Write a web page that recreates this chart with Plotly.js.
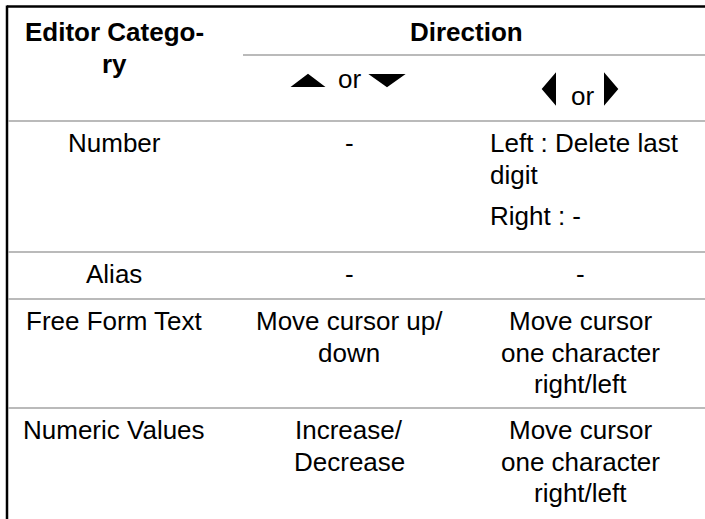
<!DOCTYPE html>
<html>
<head>
<meta charset="utf-8">
<script src="https://cdn.plot.ly/plotly-3.0.1.min.js"></script>
<style>html,body{margin:0;padding:0;background:#fff;}#chart{width:705px;height:519px;}</style>
</head>
<body>
<div id="chart"></div>
<script>
// ---- table content ----
const headerCategory = ["Editor Catego-", "ry"];
const headerDirection = "Direction";
const headerUpDown = "or";
const headerLeftRight = "or";
const categories = ["Number", "Alias", "Free Form Text", "Numeric Values"];
const upDownActions = [["-"], ["-"], ["Move cursor up/", "down"], ["Increase/", "Decrease"]];
const leftRightActions = [["Left : Delete last", "digit"], ["-"], ["Move cursor", "one character", "right/left"], ["Move cursor", "one character", "right/left"]];
const leftRightExtra = [["Right : -"], [], [], []];
const leftRightAlign = ["left", "center", "center", "center"];

// ---- layout constants (pixels of the 705x519 canvas) ----
const W = 705, H = 519;
const colEdges = [7, 243, 477, 705];
const headerTop = 6.5, headerSplit = 55, headerBottom = 121;
const rowBottoms = [252, 299, 408, null];
const colOffset = -11, leftPad = 11, firstLinePad = 22, lineStep = 31.5, paraGap = 10;
const FONT = "Liberation Sans, Arial, Helvetica, sans-serif";
const FS = 26;
const gridColor = "#a3a3a3";

const annotations = [];
const shapes = [];
function addText(lines, x, firstY, opts) {
  opts = opts || {};
  lines.forEach((ln, k) => {
    annotations.push({
      xref: "x", yref: "y", x: x, y: firstY + k * lineStep,
      text: ln, showarrow: false,
      xanchor: opts.xanchor || "center", yanchor: "middle",
      font: {family: FONT, size: FS, color: "#000", weight: opts.bold ? "bold" : "normal"}
    });
  });
}
function hline(y, x0, x1, color, width) {
  shapes.push({type: "line", xref: "x", yref: "y", x0: x0, x1: x1, y0: y, y1: y, line: {color: color, width: width}});
}
function tri(cx, cy, w, h, dir) {
  let p;
  if (dir === "up") p = [[cx - w/2, cy + h/2], [cx + w/2, cy + h/2], [cx, cy - h/2]];
  else if (dir === "down") p = [[cx - w/2, cy - h/2], [cx + w/2, cy - h/2], [cx, cy + h/2]];
  else if (dir === "left") p = [[cx + w/2, cy - h/2], [cx + w/2, cy + h/2], [cx - w/2, cy]];
  else p = [[cx - w/2, cy - h/2], [cx - w/2, cy + h/2], [cx + w/2, cy]];
  const d = "M" + p.map(q => q[0] + "," + q[1]).join("L") + "Z";
  shapes.push({type: "path", xref: "x", yref: "y", path: d, fillcolor: "#000", line: {color: "#000", width: 2}});
}
const colCenter = i => (colEdges[i] + colEdges[i + 1]) / 2 + colOffset;

// borders
hline(headerTop, colEdges[0], W, "#000", 2.5);
shapes.push({type: "line", xref: "x", yref: "y", x0: colEdges[0], x1: colEdges[0], y0: headerTop - 1, y1: H, line: {color: "#000", width: 2.5}});
hline(headerSplit, colEdges[1], W, gridColor, 1.5);
hline(headerBottom, colEdges[0] + 1, W, gridColor, 1.5);
rowBottoms.forEach(y => { if (y !== null) hline(y, colEdges[0] + 1, W, gridColor, 1.5); });

// header
const headFirst = headerTop + 25.5;
addText(headerCategory, colCenter(0), headFirst, {bold: true});
addText([headerDirection], (colEdges[1] + colEdges[3]) / 2 - 8, headFirst, {bold: true});
const c2 = colCenter(1), c3 = colCenter(2);
const arrowY1 = 80.5, arrowY2 = 89;
addText([headerUpDown], c2, arrowY1 - 1.5);
tri(c2 - 41, arrowY1, 29, 11, "up");
tri(c2 + 38, arrowY1, 31, 11, "down");
addText([headerLeftRight], c3 + 2, arrowY2 + 6.5);
tri(c3 - 31, arrowY2, 12, 28, "left");
tri(c3 + 31, arrowY2, 12, 28, "right");

// body rows
const rowTops = [headerBottom].concat(rowBottoms.slice(0, 3));
categories.forEach((cat, i) => {
  const y0 = rowTops[i] + firstLinePad;
  addText([cat], colCenter(0), y0);
  addText(upDownActions[i], colCenter(1), y0);
  if (leftRightAlign[i] === "left") {
    addText(leftRightActions[i], colEdges[2] + leftPad, y0, {xanchor: "left"});
    if (leftRightExtra[i].length) {
      addText(leftRightExtra[i], colEdges[2] + leftPad, y0 + leftRightActions[i].length * lineStep + paraGap, {xanchor: "left"});
    }
  } else {
    addText(leftRightActions[i], colCenter(2), y0);
  }
});

Plotly.newPlot("chart", [{type: "scatter", x: [], y: [], hoverinfo: "skip", showlegend: false}], {
  width: W, height: H, margin: {l: 0, r: 0, t: 0, b: 0, pad: 0},
  paper_bgcolor: "#fff", plot_bgcolor: "#fff", showlegend: false,
  xaxis: {range: [0, W], visible: false, fixedrange: true},
  yaxis: {range: [H, 0], visible: false, fixedrange: true},
  shapes: shapes, annotations: annotations
}, {staticPlot: true, displayModeBar: false});
</script>
</body>
</html>
